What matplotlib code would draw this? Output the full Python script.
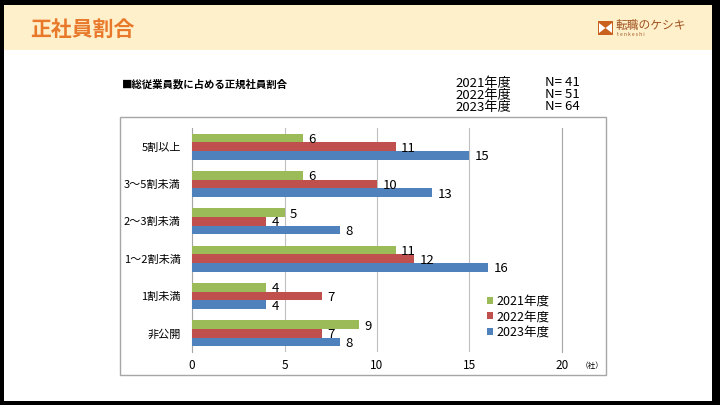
import matplotlib
matplotlib.use("Agg")
import matplotlib.pyplot as plt
from matplotlib.patches import Rectangle, Polygon
import numpy as np

plt.rcParams['font.family'] = ['Noto Sans CJK JP', 'DejaVu Sans']

categories = ['5割以上', '3～5割未満', '2～3割未満', '1～2割未満', '1割未満', '非公開']
years = ['2021年度', '2022年度', '2023年度']
counts_2021 = [6, 6, 5, 11, 4, 9]
counts_2022 = [11, 10, 4, 12, 7, 7]
counts_2023 = [15, 13, 8, 16, 4, 8]
sample_n = [41, 51, 64]
colors = ['#9BBB59', '#C0504D', '#4F81BD']

W, H = 720, 405
fig = plt.figure(figsize=(7.2, 4.05), dpi=100)
fig.patch.set_facecolor('black')


def px(x, y):
    # pixel coords (top-left origin) -> figure fraction
    return x / W, 1 - y / H


# white page and header band
fig.patches.append(Rectangle(px(4, 401), 708 / W, 396 / H, transform=fig.transFigure,
                             facecolor='white', edgecolor='none', zorder=0))
fig.patches.append(Rectangle(px(4, 50), 708 / W, 45 / H, transform=fig.transFigure,
                             facecolor='#FFF0CC', edgecolor='none', zorder=1))
fig.text(*px(30, 29), '正社員割合', fontsize=15, fontweight='bold', color='#E8782A',
         va='center', ha='left')

# logo
fig.patches.append(Rectangle(px(598, 35), 15 / W, 14 / H, transform=fig.transFigure,
                             facecolor='#C8621E', edgecolor='none', zorder=2))
bow = [px(599, 23), px(605.5, 28), px(599, 33), px(612, 33), px(605.5, 28), px(612, 23)]
fig.patches.append(Polygon(bow[:3], closed=True, transform=fig.transFigure,
                           facecolor='white', edgecolor='none', zorder=3))
fig.patches.append(Polygon(bow[3:], closed=True, transform=fig.transFigure,
                           facecolor='white', edgecolor='none', zorder=3))
fig.text(*px(616, 26), '転職のケシキ', fontsize=8.5, color='#A0521E', va='center', ha='left')
fig.text(*px(617, 35), 't e n k e s h i', fontsize=3.5, color='#A0521E', va='center', ha='left')

# chart outer box
fig.patches.append(Rectangle(px(120, 375), 486 / W, 258 / H, transform=fig.transFigure,
                             facecolor='white', edgecolor='#A6A6A6', linewidth=1, zorder=1))

fig.text(*px(122, 84), '■総従業員数に占める正規社員割合', fontsize=7.5, fontweight='bold',
         va='center', ha='left')
for i, (yr, n) in enumerate(zip(years, sample_n)):
    fig.text(*px(511, 83 + i * 12), yr, fontsize=9.5, va='center', ha='right')
    fig.text(*px(545, 83 + i * 12), f'N= {n}', fontsize=9.5, va='center', ha='left')

ax = fig.add_axes([192 / W, 1 - 352 / H, 370 / W, 224 / H])
ax.set_facecolor('none')
ax.set_zorder(5)

y = np.arange(len(categories))
bh = 0.23
series = [counts_2021, counts_2022, counts_2023]
for k, (vals, c, lab) in enumerate(zip(series, colors, years)):
    pos = y + (k - 1) * bh
    ax.barh(pos, vals, height=bh, color=c, label=lab, zorder=3)
    for p, v in zip(pos, vals):
        ax.text(v + 0.3, p + 0.04, str(v), fontsize=9.5, va='center', ha='left', zorder=4)

ax.set_xlim(0, 20)
ax.set_ylim(len(categories) - 0.5, -0.5)
ax.set_xticks([0, 5, 10, 15, 20])
ax.set_yticks(y)
ax.set_yticklabels(categories, fontsize=8)
ax.tick_params(axis='x', labelsize=8.5, length=0, pad=5)
ax.tick_params(axis='y', length=0, pad=8)
ax.grid(axis='x', color='#BFBFBF', linewidth=0.8, zorder=0)
for s in ['top', 'bottom']:
    ax.spines[s].set_visible(False)
for s in ['left', 'right']:
    ax.spines[s].set_color('#A6A6A6')
    ax.spines[s].set_linewidth(0.8)

fig.text(*px(592, 366), '（社）', fontsize=5.5, va='center', ha='center')

leg = ax.legend(loc='lower right', bbox_to_anchor=(0.99, 0.02), frameon=False,
                fontsize=9, handlelength=0.45, handleheight=0.45, handletextpad=0.3,
                labelspacing=0.2, borderpad=0.2)

fig.savefig('out.png', dpi=100, facecolor=fig.get_facecolor())
